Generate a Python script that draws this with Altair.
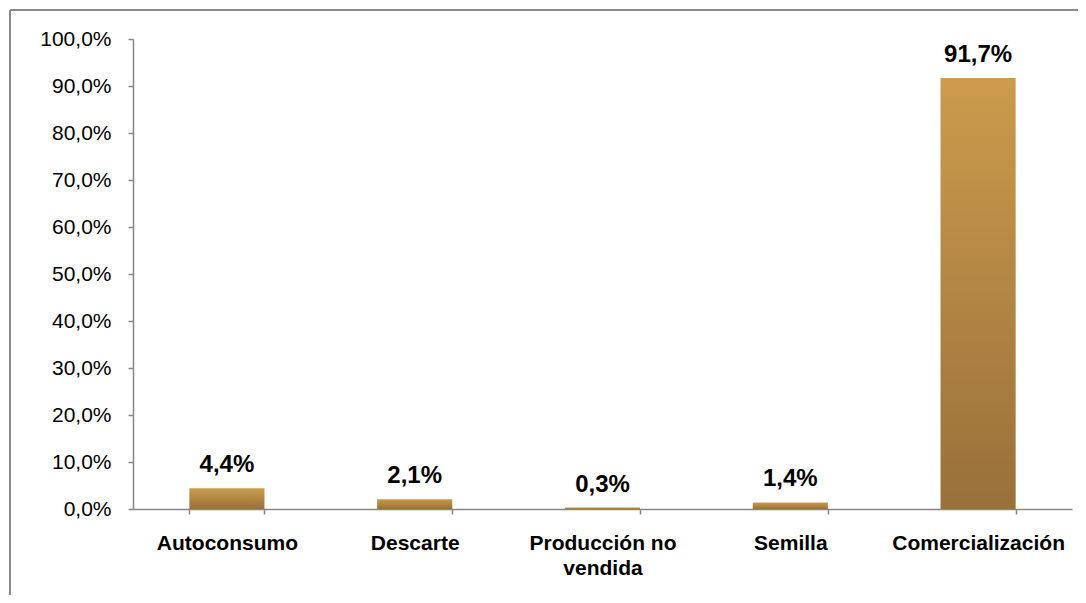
import altair as alt
import pandas as pd

categories = ["Autoconsumo", "Descarte", "Producción no vendida", "Semilla", "Comercialización"]
values = [0.044, 0.021, 0.003, 0.014, 0.917]

df = pd.DataFrame({"cat": categories, "val": values})
frame = pd.DataFrame({"k": [0]})

FONT = "Liberation Sans"
W, H = 939, 470

x_enc = alt.X(
    "cat:N",
    sort=None,
    scale=alt.Scale(paddingInner=0.6, paddingOuter=0.3),
    axis=alt.Axis(
        title=None,
        labelAngle=0,
        labelFont=FONT,
        labelFontSize=21,
        labelFontWeight="bold",
        labelColor="#000000",
        labelPadding=18,
        labelLineHeight=25,
        labelExpr="datum.label == 'Producción no vendida' ? ['Producción no', 'vendida'] : datum.label",
        tickBand="extent",
        tickSize=5,
        tickColor="#868686",
        tickWidth=1.5,
        domainColor="#868686",
        domainWidth=1.5,
        grid=False,
    ),
)
y_enc = alt.Y(
    "val:Q",
    scale=alt.Scale(domain=[0, 1], nice=False),
    axis=alt.Axis(
        title=None,
        values=[i / 10 for i in range(11)],
        labelExpr="replace(format(datum.value, '.1%'), '.', ',')",
        labelFont=FONT,
        labelFontSize=21,
        labelColor="#000000",
        labelPadding=17,
        tickSize=5,
        tickColor="#868686",
        tickWidth=1.5,
        domainColor="#868686",
        domainWidth=1.5,
        grid=False,
    ),
)

bars = alt.Chart(df).mark_bar(
    color=alt.Gradient(
        gradient="linear",
        stops=[
            alt.GradientStop(color="#CC9B4C", offset=0),
            alt.GradientStop(color="#98703A", offset=1),
        ],
        x1=0, x2=0, y1=0, y2=1,
    )
).encode(x=x_enc, y=y_enc)

labels = alt.Chart(df).transform_calculate(
    lab="replace(format(datum.val, '.1%'), '.', ',')"
).mark_text(
    font=FONT, fontSize=24, fontWeight="bold", color="#000000",
    baseline="alphabetic", dy=-16
).encode(x=alt.X("cat:N", sort=None), y="val:Q", text="lab:N")

top_border = alt.Chart(frame).mark_rule(color="#8c8c8c", strokeWidth=2).encode(
    x=alt.value(-123), x2=alt.value(W + 6), y=alt.value(-29)
)
left_border = alt.Chart(frame).mark_rule(color="#8c8c8c", strokeWidth=2).encode(
    x=alt.value(-123), y=alt.value(-29), y2=alt.value(H + 86)
)

chart = alt.layer(bars, labels, top_border, left_border).properties(
    width=W,
    height=H,
    autosize=alt.AutoSizeParams(type="none"),
    padding={"left": 125, "top": 31, "right": 6, "bottom": 86},
).configure_view(stroke=None)

chart.save("out.html", embed_options={"renderer": "svg", "actions": False})
